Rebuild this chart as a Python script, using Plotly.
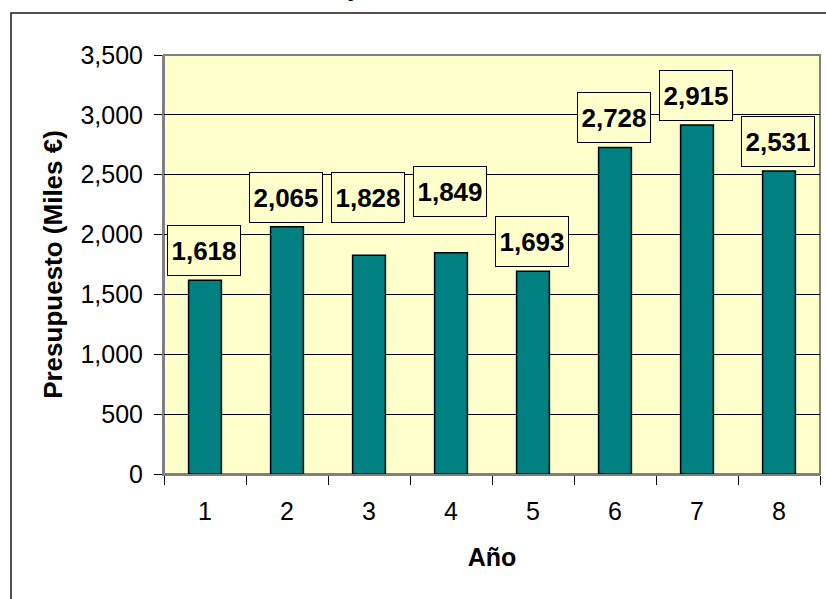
import plotly.graph_objects as go

# ---- data ----
years = ["1", "2", "3", "4", "5", "6", "7", "8"]
budget = [1618, 2065, 1828, 1849, 1693, 2728, 2915, 2531]
label_text = ["1,618", "2,065", "1,828", "1,849", "1,693", "2,728", "2,915", "2,531"]
y_ticks = [0, 500, 1000, 1500, 2000, 2500, 3000, 3500]
y_tick_text = ["0", "500", "1,000", "1,500", "2,000", "2,500", "3,000", "3,500"]

# label raise above bar top (px) – labels 3 and 4 were moved up in the original
label_raise = [4, 4, 32, 36, 4, 4, 4, 4]

FONT = "Liberation Sans, Arial, sans-serif"
L, R, T, B = 164, 820, 55, 474
W, H = 826, 599

def px_x(p):
    return (p - L) / (R - L)

def px_y(p):
    return (B - p) / (B - T)

fig = go.Figure()
fig.add_trace(go.Bar(
    x=years, y=budget,
    marker=dict(color="#008080", line=dict(color="#000000", width=1.5)),
    width=0.4, hoverinfo="skip",
))

annotations = []
for i, (yi, txt, r) in enumerate(zip(budget, label_text, label_raise)):
    annotations.append(dict(
        x=i, y=yi, xref="x", yref="y", text="<b>%s</b>" % txt,
        showarrow=False, yanchor="bottom", xanchor="center", yshift=r, xshift=-1.5,
        font=dict(family=FONT, size=26, color="#000000"),
        bgcolor="#FFFFCC", bordercolor="#000000", borderwidth=1,
        borderpad=1, width=70, height=47,
    ))

# clipped title remnant at the top edge
annotations.append(dict(
    x=px_x(352), y=px_y(-13), xref="paper", yref="paper", text="<b>j</b>",
    showarrow=False, xanchor="center", yanchor="middle",
    font=dict(family=FONT, size=25, color="#000000"),
))

shapes = [
    # outer chart border (open at right/bottom because of cropping)
    dict(type="rect", xref="paper", yref="paper",
         x0=px_x(11), x1=px_x(840), y0=px_y(620), y1=px_y(13),
         line=dict(color="#1a1a1a", width=1.5), fillcolor="rgba(0,0,0,0)", layer="above"),
    # plot area border
    dict(type="rect", xref="paper", yref="paper", x0=0, x1=1, y0=0, y1=1,
         line=dict(color="#808080", width=2), fillcolor="rgba(0,0,0,0)", layer="below"),
]

fig.update_layout(
    width=W, height=H,
    margin=dict(l=L, r=W - R, t=T, b=H - B, pad=0, autoexpand=False),
    paper_bgcolor="#FFFFFF", plot_bgcolor="#FFFFCC",
    showlegend=False, bargap=0.6,
    font=dict(family=FONT, color="#000000"),
    annotations=annotations, shapes=shapes,
    xaxis=dict(
        type="category", tickson="boundaries", ticks="outside", ticklen=9,
        tickcolor="#000000", tickwidth=1, showgrid=False, automargin=False,
        showline=True, linecolor="#808080", linewidth=2,
        tickfont=dict(family=FONT, size=25, color="#000000"),
        ticklabelstandoff=14,
        title=dict(text="<b>Año</b>", font=dict(family=FONT, size=25), standoff=24),
        range=[-0.5, 7.5],
    ),
    yaxis=dict(
        range=[0, 3500], tickvals=y_ticks, ticktext=y_tick_text, automargin=False,
        ticks="outside", ticklen=8, tickcolor="#000000", tickwidth=1,
        showgrid=True, gridcolor="#000000", gridwidth=1,
        showline=True, linecolor="#808080", linewidth=2, zeroline=False,
        tickfont=dict(family=FONT, size=25, color="#000000"),
        ticklabelstandoff=6,
        title=dict(text="<b>Presupuesto (Miles €)</b>", font=dict(family=FONT, size=26), standoff=10),
    ),
)

fig.write_html("out.html", config={"displayModeBar": False, "staticPlot": True})
with open("out.html", encoding="utf-8") as f:
    html = f.read()
html = html.replace("<head>", "<head><style>html,body{margin:0;padding:0;overflow:hidden;}</style>", 1)
with open("out.html", "w", encoding="utf-8") as f:
    f.write(html)
